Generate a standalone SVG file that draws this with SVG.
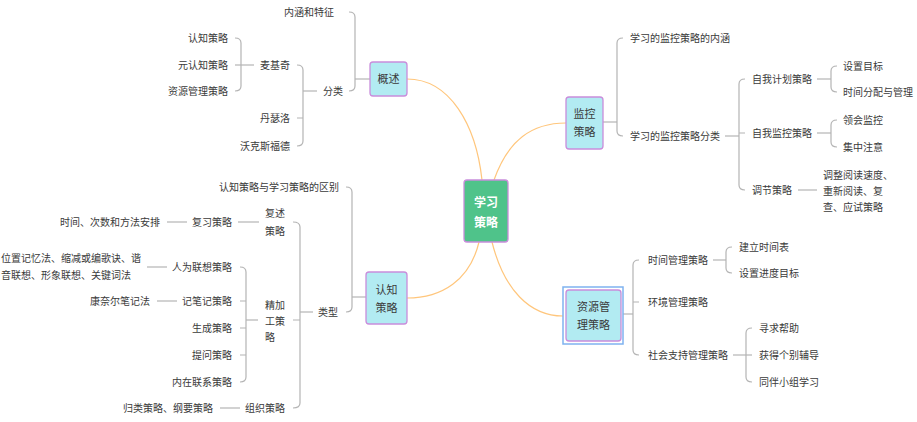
<svg xmlns="http://www.w3.org/2000/svg" width="917" height="422" viewBox="0 0 917 422">
<style>
text{font-family:"Noto Sans CJK SC","Noto Sans",sans-serif;fill:#3a3a3a;font-size:10px}
.e{text-anchor:end}
.m{text-anchor:middle;font-size:11px}
.root{text-anchor:middle;font-size:12px;font-weight:bold;fill:#ffffff}
.br{fill:none;stroke:#b4b4b4;stroke-width:1.2}
.cv{fill:none;stroke:#ffc67c;stroke-width:1.2}
.nd{fill:#b2ebf2;stroke:#c98ddb;stroke-width:1.3}
</style>
<rect width="917" height="422" fill="#ffffff"/>
<g id="connectors">
<path class="cv" d="M407,79 C450,79 476,125 482,180"/>
<path class="cv" d="M494,180 C508,140 532,123 566,123"/>
<path class="cv" d="M479,242 C470,280 442,298 407,298"/>
<path class="cv" d="M492,242 C504,290 530,316 563,316"/>
<!-- 概述 -->
<path class="br" d="M370,79 H355"/>
<path class="br" d="M349,12 Q355,12 355,17 V86 Q355,91 349,91"/>
<path class="br" d="M317,91 H303"/>
<path class="br" d="M297,65 Q303,65 303,70 V141 Q303,146 297,146 M303,118 H297"/>
<path class="br" d="M254,65 H235"/>
<path class="br" d="M235,38 Q241,38 241,43 V86 Q241,91 235,91"/>
<!-- 认知 -->
<path class="br" d="M366,297 H352"/>
<path class="br" d="M346,187 Q352,187 352,192 V307 Q352,312 346,312"/>
<path class="br" d="M313,312 H300"/>
<path class="br" d="M293,222 Q300,222 300,227 V403 Q300,408 293,408 M300,320 H293"/>
<path class="br" d="M259,222 H238"/>
<path class="br" d="M187,222 H167"/>
<path class="br" d="M258,320 H246"/>
<path class="br" d="M240,267 Q246,267 246,272 V377 Q246,382 240,382 M246,301 H240 M246,328 H240 M246,355 H240"/>
<path class="br" d="M167,267 H147"/>
<path class="br" d="M177,301 H157"/>
<path class="br" d="M240,408 H220"/>
<!-- 监控 -->
<path class="br" d="M603,122 H617"/>
<path class="br" d="M623,38 Q617,38 617,43 V131 Q617,136 623,136"/>
<path class="br" d="M725,136 H739"/>
<path class="br" d="M745,79 Q739,79 739,84 V185 Q739,190 745,190 M739,133 H745"/>
<path class="br" d="M817,79 H831"/>
<path class="br" d="M837,66 Q831,66 831,71 V87 Q831,92 837,92"/>
<path class="br" d="M817,133 H831"/>
<path class="br" d="M837,120 Q831,120 831,125 V142 Q831,147 837,147"/>
<path class="br" d="M798,190 H817"/>
<!-- 资源 -->
<path class="br" d="M623,314 H633"/>
<path class="br" d="M639,260 Q633,260 633,265 V350 Q633,355 639,355 M633,302 H639"/>
<path class="br" d="M713,260 H726"/>
<path class="br" d="M732,247 Q726,247 726,252 V268 Q726,273 732,273"/>
<path class="br" d="M733,355 H752"/>
<path class="br" d="M752,328 Q746,328 746,333 V377 Q746,382 752,382"/>
</g>
<g id="root">
<rect x="464" y="180" width="44" height="62" rx="3" fill="#4fc38a" stroke="#c98ddb" stroke-width="1.3"/>
<text class="root" x="486" y="206.5">学习</text>
<text class="root" x="486" y="226.5">策略</text>
</g>
<g id="n-gaishu">
<rect class="nd" x="370" y="62" width="37" height="34" rx="3"/>
<text class="m" x="388.5" y="83">概述</text>
</g>
<g id="n-gaishu-items">
<text class="e" x="334" y="15.6">内涵和特征</text>
<text class="e" x="343" y="94.6">分类</text>
<text class="e" x="290" y="68.6">麦基奇</text>
<text class="e" x="290" y="121.6">丹瑟洛</text>
<text class="e" x="290" y="149.6">沃克斯福德</text>
<text class="e" x="228" y="41.6">认知策略</text>
<text class="e" x="228" y="68.6">元认知策略</text>
<text class="e" x="228" y="94.6">资源管理策略</text>
</g>
<g id="n-renzhi">
<rect class="nd" x="366" y="272" width="41" height="52" rx="3"/>
<text class="m" x="386.5" y="294">认知</text>
<text class="m" x="386.5" y="312">策略</text>
</g>
<g id="n-renzhi-items">
<text class="e" x="339" y="190.6">认知策略与学习策略的区别</text>
<text class="e" x="338" y="315.6">类型</text>
<text x="265" y="216.6">复述</text>
<text x="265" y="234.6">策略</text>
<text x="265" y="308.6">精加</text>
<text x="265" y="324.6">工策</text>
<text x="265" y="340.6">略</text>
<text class="e" x="285" y="411.6">组织策略</text>
<text class="e" x="232" y="225.6">复习策略</text>
<text class="e" x="160" y="225.6">时间、次数和方法安排</text>
<text class="e" x="232" y="270.6">人为联想策略</text>
<text class="e" x="232" y="304.6">记笔记策略</text>
<text class="e" x="232" y="331.6">生成策略</text>
<text class="e" x="232" y="358.6">提问策略</text>
<text class="e" x="232" y="385.6">内在联系策略</text>
<text x="1" y="261.6">位置记忆法、缩减或编歌诀、谐</text>
<text x="1" y="278.6">音联想、形象联想、关键词法</text>
<text class="e" x="150" y="304.6">康奈尔笔记法</text>
<text class="e" x="213" y="411.6">归类策略、纲要策略</text>
</g>
<g id="n-jiankong">
<rect class="nd" x="566" y="97" width="37" height="52" rx="3"/>
<text class="m" x="584.5" y="118">监控</text>
<text class="m" x="584.5" y="136">策略</text>
</g>
<g id="n-jiankong-items">
<text x="630" y="41.6">学习的监控策略的内涵</text>
<text x="630" y="139.6">学习的监控策略分类</text>
<text x="752" y="82.6">自我计划策略</text>
<text x="752" y="136.6">自我监控策略</text>
<text x="752" y="193.6">调节策略</text>
<text x="843" y="69.6">设置目标</text>
<text x="843" y="95.6">时间分配与管理</text>
<text x="843" y="123.6">领会监控</text>
<text x="843" y="150.6">集中注意</text>
<text x="823" y="178.6">调整阅读速度、</text>
<text x="823" y="194.6">重新阅读、复</text>
<text x="823" y="210.6">查、应试策略</text>
</g>
<g id="n-ziyuan">
<rect x="563" y="287" width="60" height="57" fill="none" stroke="#7fb2f0" stroke-width="1.5"/>
<rect class="nd" x="566" y="290" width="55" height="51" rx="3"/>
<text class="m" x="593.5" y="311">资源管</text>
<text class="m" x="593.5" y="329">理策略</text>
</g>
<g id="n-ziyuan-items">
<text x="648" y="263.6">时间管理策略</text>
<text x="648" y="305.6">环境管理策略</text>
<text x="648" y="358.6">社会支持管理策略</text>
<text x="739" y="250.6">建立时间表</text>
<text x="739" y="276.6">设置进度目标</text>
<text x="759" y="331.6">寻求帮助</text>
<text x="759" y="358.6">获得个别辅导</text>
<text x="759" y="385.6">同伴小组学习</text>
</g>
</svg>
